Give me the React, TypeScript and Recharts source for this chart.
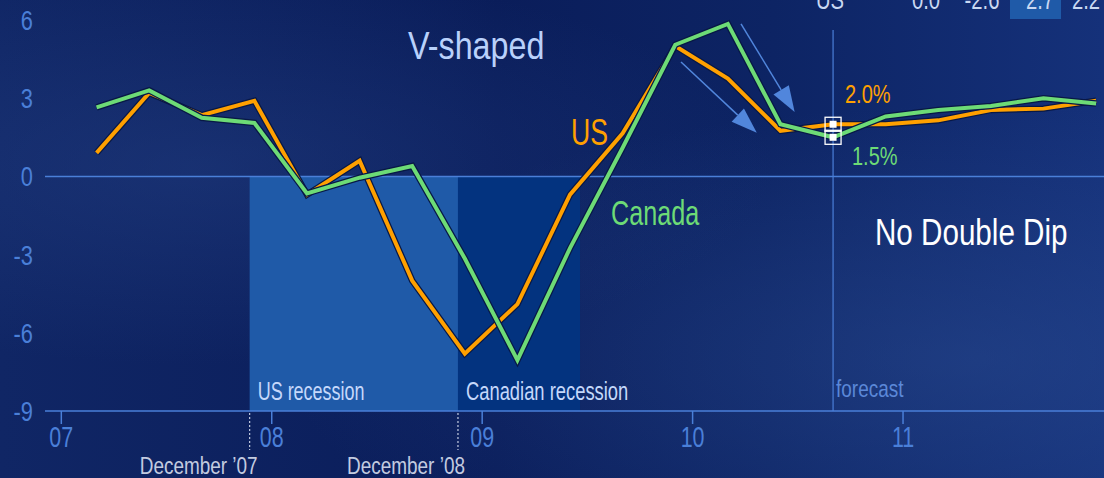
import React from "react";
import { LineChart, Line, XAxis, YAxis, ReferenceArea, ReferenceLine, ReferenceDot } from "recharts";

// quarterly real GDP growth, annualized %, Q2 2007 .. Q1 2012 (forecast from index 14)
const quarterIdx = [0, 1, 2, 3, 4, 5, 6, 7, 8, 9, 10, 11, 12, 13, 14, 15, 16, 17, 18, 19];
const usGrowth = [0.9, 3.2, 2.35, 2.9, -0.7, 0.6, -4.0, -6.8, -4.9, -0.7, 1.65, 5.0, 3.75, 1.75, 2.0, 2.0, 2.15, 2.55, 2.6, 2.9];
const canadaGrowth = [2.65, 3.3, 2.25, 2.05, -0.65, -0.05, 0.4, -3.15, -7.05, -2.75, 1.1, 5.05, 5.85, 2.0, 1.5, 2.3, 2.55, 2.7, 3.0, 2.8];

const yearTicks = [-0.67, 3.33, 7.33, 11.33, 15.33];
const yearLabels = ["07", "08", "09", "10", "11"];
const valueTicks = [-9, -6, -3, 0, 3, 6];

const usRecession = [2.91, 6.87];
const caRecession = [6.87, 9.19];
const forecastAt = 14;

const topRow = ["US", "0.0", "-2.6", "2.7", "2.2"];

const data = quarterIdx.map((q, i) => ({ q, us: usGrowth[i], ca: canadaGrowth[i] }));

if (typeof document !== "undefined") document.body.style.margin = "0";

const W = 1104;
const H = 478;
const X_MIN = -0.98;
const X_MAX = 19.15;
const PLOT_L = 45;
const PLOT_R = 1104;
const PLOT_T = 20;
const PLOT_B = 411;

const px = (v: number) => PLOT_L + ((v - X_MIN) / (X_MAX - X_MIN)) * (PLOT_R - PLOT_L);
const py = (v: number) => PLOT_T + ((6 - v) / 15) * (PLOT_B - PLOT_T);

const FONT = "'Liberation Sans', Arial, sans-serif";
const BLUE = "#4a7fd8";
const ORANGE = "#ffa000";
const GREEN = "#6ddb76";
const OUTLINE = "#081846";

// narrow text: squeeze horizontally to mimic a condensed face
function NText({ x, y, children, size, fill, anchor = "start", sx = 0.75 }: any) {
  return (
    <text
      transform={`translate(${x},${y}) scale(${sx},1)`}
      textAnchor={anchor}
      fontFamily={FONT}
      fontSize={size}
      fill={fill}
    >
      {children}
    </text>
  );
}

const BoxMarker = (props: any) => {
  const { cx, cy } = props;
  if (cx == null || cy == null) return <g />;
  return (
    <g>
      <rect x={cx - 8} y={cy - 7} width={16} height={14} fill="none" stroke="#ffffff" strokeWidth={1.3} />
      <rect x={cx - 3.5} y={cy - 3.5} width={7} height={7} fill="#ffffff" />
    </g>
  );
};

function Arrow({ from, to }: { from: [number, number]; to: [number, number] }) {
  const x1 = px(from[0]);
  const y1 = py(from[1]);
  const x2 = px(to[0]);
  const y2 = py(to[1]);
  const dx = x2 - x1;
  const dy = y2 - y1;
  const len = Math.sqrt(dx * dx + dy * dy);
  const ux = dx / len;
  const uy = dy / len;
  const head = 26;
  const half = 9;
  const bx = x2 - ux * head;
  const by = y2 - uy * head;
  return (
    <g>
      <line x1={x1} y1={y1} x2={bx} y2={by} stroke="#5186dc" strokeWidth={1.5} />
      <polygon
        points={`${x2},${y2} ${bx - uy * half},${by + ux * half} ${bx + uy * half},${by - ux * half}`}
        fill="#5186dc"
      />
    </g>
  );
}

export default function App() {
  const xTick = (props: any) => {
    const { x, y, payload } = props;
    const idx = yearTicks.indexOf(payload.value);
    return (
      <NText x={x} y={y + 21} anchor="middle" size={29} fill={BLUE} sx={0.74}>
        {yearLabels[idx]}
      </NText>
    );
  };
  const yTick = (props: any) => {
    const { x, y, payload } = props;
    return (
      <NText x={x} y={y + 10} anchor="end" size={28} fill={BLUE} sx={0.78}>
        {payload.value}
      </NText>
    );
  };

  return (
    <div
      style={{
        position: "relative",
        width: W,
        height: H,
        overflow: "hidden",
        background:
          "radial-gradient(ellipse at 18% 35%, rgba(40,70,140,0.40) 0%, rgba(0,0,0,0) 45%), radial-gradient(ellipse at 88% 75%, rgba(45,80,150,0.45) 0%, rgba(0,0,0,0) 50%), linear-gradient(90deg, #102665 0%, #0a1d5a 45%, #0d2464 70%, #15317a 100%)",
      }}
    >
      <LineChart width={W} height={H} data={data} margin={{ top: PLOT_T, right: 0, bottom: 0, left: 0 }}>
        <XAxis
          dataKey="q"
          type="number"
          domain={[X_MIN, X_MAX]}
          ticks={yearTicks}
          height={H - PLOT_B}
          axisLine={{ stroke: BLUE, strokeWidth: 1.5 }}
          tickLine={{ stroke: BLUE, strokeWidth: 1.5 }}
          tickSize={13}
          tick={xTick}
          allowDataOverflow
        />
        <YAxis
          type="number"
          domain={[-9, 6]}
          ticks={valueTicks}
          width={PLOT_L}
          axisLine={false}
          tickLine={false}
          tickSize={0}
          tickMargin={12}
          tick={yTick}
        />
        <ReferenceArea x1={usRecession[0]} x2={usRecession[1]} y1={-9} y2={0} fill="#1f5aa8" fillOpacity={1} stroke="none" />
        <ReferenceArea x1={caRecession[0]} x2={caRecession[1]} y1={-9} y2={0} fill="#03337f" fillOpacity={1} stroke="none" />
        <ReferenceLine y={0} stroke={BLUE} strokeWidth={1.5} />
        <ReferenceLine
          segment={[
            { x: forecastAt, y: 5.62 },
            { x: forecastAt, y: -9 },
          ]}
          stroke={BLUE}
          strokeWidth={1.2}
        />
        <Line dataKey="us" type="linear" stroke={OUTLINE} strokeWidth={6.5} dot={false} isAnimationActive={false} />
        <Line dataKey="us" type="linear" stroke={ORANGE} strokeWidth={4} dot={false} isAnimationActive={false} />
        <Line dataKey="ca" type="linear" stroke={OUTLINE} strokeWidth={6.5} dot={false} isAnimationActive={false} />
        <Line dataKey="ca" type="linear" stroke={GREEN} strokeWidth={4} dot={false} isAnimationActive={false} />
        <ReferenceDot x={forecastAt} y={usGrowth[forecastAt]} shape={BoxMarker} />
        <ReferenceDot x={forecastAt} y={canadaGrowth[forecastAt]} shape={BoxMarker} />
      </LineChart>

      <svg width={W} height={H} style={{ position: "absolute", left: 0, top: 0, pointerEvents: "none" }}>
        {/* table row cut off at the top edge, as in the source */}
        <rect x={1010} y={0} width={51} height={19} fill="#1f5aa8" />
        {topRow.map((t, i) => (
          <NText key={t + i} x={[830, 926, 982, 1040, 1086][i]} y={9} anchor="middle" size={27} fill="#c9d8f2">
            {t}
          </NText>
        ))}

        <Arrow from={[11.11, 4.39]} to={[12.55, 1.67]} />
        <Arrow from={[12.25, 5.85]} to={[13.27, 2.47]} />

        <NText x={408} y={59} size={38} fill="#b9d1fb" sx={0.85}>V-shaped</NText>
        <NText x={571} y={145} size={37} fill={ORANGE} sx={0.72}>US</NText>
        <NText x={611} y={225} size={36} fill={GREEN} sx={0.7}>Canada</NText>
        <NText x={875} y={245} size={37} fill="#ffffff" sx={0.8}>No Double Dip</NText>
        <NText x={845} y={103} size={25} fill={ORANGE} sx={0.8}>2.0%</NText>
        <NText x={852} y={165} size={25} fill={GREEN} sx={0.8}>1.5%</NText>

        <NText x={px(usRecession[0]) + 8} y={400} size={25} fill="#c5d8fb" sx={0.72}>US recession</NText>
        <NText x={px(caRecession[0]) + 8} y={400} size={25} fill="#c5d8fb" sx={0.735}>Canadian recession</NText>
        <NText x={px(forecastAt) + 3} y={397} size={24} fill="#5b88d8" sx={0.79}>forecast</NText>

        {[usRecession[0], caRecession[0]].map((v) => (
          <line key={v} x1={px(v)} y1={PLOT_B + 2} x2={px(v)} y2={450} stroke="#c3cbe0" strokeWidth={1.2} strokeDasharray="2 2" />
        ))}
        <NText x={px(usRecession[0]) + 8} y={474} anchor="end" size={24} fill="#c3cbe0" sx={0.79}>December ’07</NText>
        <NText x={px(caRecession[0]) + 7} y={474} anchor="end" size={24} fill="#c3cbe0" sx={0.79}>December ’08</NText>
      </svg>
    </div>
  );
}
